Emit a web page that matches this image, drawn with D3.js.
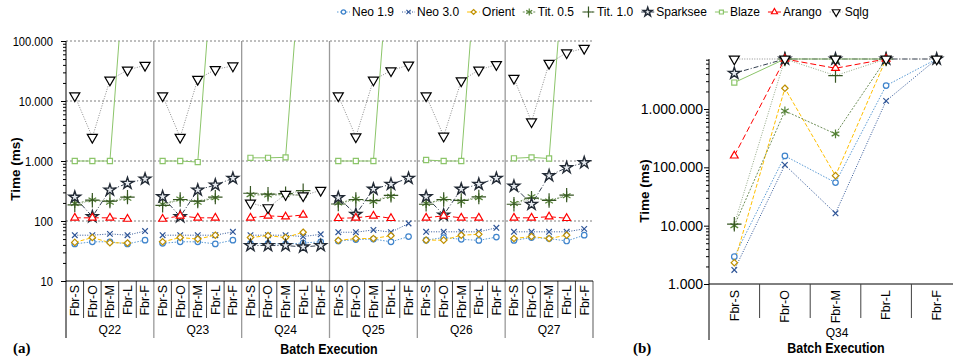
<!DOCTYPE html>
<html>
<head>
<meta charset="utf-8">
<script src="https://cdn.jsdelivr.net/npm/d3@7"></script>
<style>
  body { margin: 0; background: #fff; }
  text { font-family: "Liberation Sans", Arial, sans-serif; fill: #000; }
</style>
</head>
<body>
<div id="chart"></div>
<script>
// categories
var groups = ["Q22", "Q23", "Q24", "Q25", "Q26", "Q27"];
var cats = ["Fbr-S", "Fbr-O", "Fbr-M", "Fbr-L", "Fbr-F"];
var TO = 7200000; // timeout (2h)

// (a) one row per query, one value per batch size (ms)
var neo19 = [
  [41.5, 45, 45, 41.5, 48],
  [42.5, 45, 45, 41.5, 48],
  [42, 42, 41, 43, 45],
  [46.4, 49, 50, 45, 55],
  [48, 53, 49.5, 47.5, 54],
  [47.5, 53, 51, 46.4, 58]
];
var neo30 = [
  [58, 58, 61, 58, 68],
  [58, 58, 58, 58, 66],
  [58, 58, 58, 55, 60],
  [65, 65, 71, 65, 91],
  [66, 66, 66, 66, 77],
  [66, 66, 66, 66, 74]
];
var orient = [
  [44, 53, 43.5, 43, null],
  [45, 53, 50, 58, null],
  [53, 57, 53, 65, null],
  [47.5, 51, 51, 57, null],
  [48, 48, 58, 60, null],
  [51, 55, 51, 58, null]
];
var tit05 = [
  [195, 225, 205, 240, null],
  [190, 232, 205, 245, null],
  [275, 270, 275, 270, null],
  [200, 232, 212, 258, null],
  [196, 232, 212, 245, null],
  [196, 254, 215, 264, null]
];
var tit10 = [
  [185, 222, 215, 250, null],
  [182, 228, 215, 250, null],
  [290, 280, 285, 320, null],
  [192, 228, 218, 268, null],
  [190, 228, 220, 252, null],
  [190, 240, 220, 270, null]
];
var sparksee = [
  [250, 118, 328, 425, 500],
  [254, 118, 328, 398, 515],
  [39, 39, 39, 37, 39],
  [245, 129, 340, 410, 515],
  [254, 126, 340, 410, 515],
  [380, 190, 570, 773, 937]
];
var blaze = [
  [1000, 1000, 1000, TO, TO],
  [1000, 1000, 960, TO, TO],
  [1130, 1130, 1150, TO, TO],
  [1000, 1000, 1000, TO, TO],
  [1040, 1000, 1000, TO, TO],
  [1110, 1150, 1100, TO, TO]
];
var arango = [
  [113, 113, 113, 108, null],
  [108, 122, 113, 113, null],
  [113, 122, 118, 126, null],
  [111, 113, 122, 111, null],
  [113, 122, 113, 113, null],
  [113, 113, 118, 111, null]
];
var sqlg = [
  [12250, 2480, 22400, 32800, 39400],
  [12250, 2480, 23000, 33500, 38500],
  [200, 167, 278, 264, 325],
  [12250, 2530, 22400, 32000, 39800],
  [12250, 2600, 21700, 32800, 40500],
  [23900, 4520, 42500, 63800, 75500]
];

// (b) Q34
var q34Neo19 = [2940, 157000, 54700, 2520000, TO];
var q34Neo30 = [1740, 110000, 16300, 1380000, TO];
var q34Orient = [2320, 2270000, 72000, TO, null];
var q34Tit05 = [10000, 927000, 374000, TO, null];
var q34Tit10 = [10600, TO, 3740000, TO, null];
var q34Sparksee = [4100000, TO, TO, TO, TO];
var q34Blaze = [2840000, TO, TO, TO, null];
var q34Arango = [158000, TO, 5000000, TO, null];
var q34Sqlg = [TO, TO, TO, TO, TO];

var ticksA = [10, 100, 1000, 10000, 100000];
var ticksB = [1000, 10000, 100000, 1000000];

var series = [
  {name: "Neo 1.9", a: neo19, b: q34Neo19, color: "#3f84cc", line: "#5b9bd5", dash: "1.5,1.5", sym: d3.symbolCircle, size: 24, fill: "#fff"},
  {name: "Neo 3.0", a: neo30, b: q34Neo30, color: "#2f5597", line: "#2f5597", dash: "1,1.5", sym: d3.symbolTimes, size: 22, fill: "none"},
  {name: "Orient", a: orient, b: q34Orient, color: "#bf9000", line: "#ffc000", dash: "4,2", sym: d3.symbolDiamond2, size: 26, fill: "#fff"},
  {name: "Tit. 0.5", a: tit05, b: q34Tit05, color: "#548235", line: "#6f8f5a", dash: "2,1.5", sym: d3.symbolAsterisk, size: 55, fill: "none"},
  {name: "Tit. 1.0", a: tit10, b: q34Tit10, color: "#375623", line: "#93a886", dash: "1,1.5", sym: d3.symbolPlus, size: 70, fill: "none"},
  {name: "Sparksee", a: sparksee, b: q34Sparksee, color: "#222a35", line: "#333f50", dash: "5,2,1,2", sym: d3.symbolStar, size: 42, fill: "#e8ecf1"},
  {name: "Blaze", a: blaze, b: q34Blaze, color: "#8cc56a", line: "#8cc56a", dash: null, sym: d3.symbolSquare, size: 26, fill: "#fff"},
  {name: "Arango", a: arango, b: q34Arango, color: "#ff0000", line: "#ff0000", dash: "6,3", sym: d3.symbolTriangle, size: 26, fill: "#fff"},
  {name: "Sqlg", a: sqlg, b: q34Sqlg, color: "#000", line: "#8c8c8c", dash: "1,1.5", sym: d3.symbolTriangle, size: 44, fill: "#fff", flip: true}
];

var fmt = d3.formatLocale({decimal: ",", thousands: ".", grouping: [3], currency: ["", ""]}).format(",d");

var svg = d3.select("#chart").append("svg")
  .attr("width", 953)
  .attr("height", 360);

// squeeze text horizontally, keeping its anchor
function squish(sel, k) {
  sel.each(function() {
    var t = d3.select(this);
    var x = +t.attr("x") || 0;
    t.attr("x", x / k).attr("transform", "scale(" + k + ",1)");
  });
}

function drawMarker(g, s, x, y) {
  g.append("path")
    .attr("d", d3.symbol().type(s.sym).size(s.size)())
    .attr("transform", "translate(" + x + "," + y + ")" + (s.flip ? " rotate(180)" : ""))
    .attr("fill", s.fill)
    .attr("stroke", s.color)
    .attr("stroke-width", s.sym === d3.symbolStar ? 1.4 : 1.2);
}

// ---------------- (a) ----------------
var A = {x0: 66, x1: 593, y0: 41, y1: 281};
var yA = d3.scaleLog().domain([10, 100000]).range([A.y1, A.y0]);
var xG = d3.scaleBand().domain(groups).range([A.x0, A.x1]);
var xC = d3.scaleBand().domain(cats).range([0, xG.bandwidth()]);

svg.append("clipPath").attr("id", "clipA")
  .append("rect").attr("x", A.x0).attr("y", A.y0).attr("width", A.x1 - A.x0).attr("height", A.y1 - A.y0);

// grid
svg.append("g").selectAll("line")
  .data(ticksA.slice(1))
  .enter().append("line")
  .attr("x1", A.x0).attr("x2", A.x1)
  .attr("y1", d => yA(d)).attr("y2", d => yA(d))
  .attr("stroke", "#7f7f7f")
  .attr("stroke-dasharray", "2,2");

// group separators
svg.append("g").selectAll("line")
  .data(groups.slice(1))
  .enter().append("line")
  .attr("x1", d => xG(d)).attr("x2", d => xG(d))
  .attr("y1", A.y0).attr("y2", 338)
  .attr("stroke", "#9a9a9a")
  .attr("stroke-width", 1.3);
svg.append("line")
  .attr("x1", A.x1).attr("x2", A.x1).attr("y1", A.y1).attr("y2", 338)
  .attr("stroke", "#7f7f7f").attr("stroke-width", 1.3);

// category dividers and labels
groups.forEach(function(g) {
  cats.forEach(function(c, i) {
    var cx = xG(g) + xC(c) + xC.bandwidth() / 2;
    if (i > 0) {
      svg.append("line")
        .attr("x1", xG(g) + xC(c)).attr("x2", xG(g) + xC(c))
        .attr("y1", A.y1).attr("y2", 318)
        .attr("stroke", "#404040");
    }
    svg.append("text")
      .attr("transform", "translate(" + cx + ",285) rotate(-90)")
      .attr("text-anchor", "end")
      .attr("dy", "0.35em")
      .style("font-size", "12.5px")
      .text(c);
  });
  svg.append("text")
    .attr("x", xG(g) + xG.bandwidth() / 2)
    .attr("y", 334)
    .attr("text-anchor", "middle")
    .style("font-size", "12px")
    .text(g);
});

// y axis
var minorA = yA.ticks().filter(d => ticksA.indexOf(d) < 0);
svg.append("g")
  .attr("transform", "translate(" + A.x0 + ",0)")
  .call(d3.axisLeft(yA).tickValues(minorA).tickSizeInner(3).tickSizeOuter(0).tickFormat(""))
  .call(g => g.select(".domain").remove());
var gyA = svg.append("g")
  .attr("transform", "translate(" + A.x0 + ",0)")
  .call(d3.axisLeft(yA).tickValues(ticksA).tickFormat(fmt).tickSizeInner(5).tickSizeOuter(0).tickPadding(8));
gyA.select(".domain").remove();
gyA.selectAll("text").style("font-size", "13px").style("font-family", "'Liberation Sans', Arial, sans-serif");
squish(gyA.selectAll("text"), 0.86);
svg.append("line").attr("x1", A.x0).attr("x2", A.x0).attr("y1", A.y0).attr("y2", 338).attr("stroke", "#000");
svg.append("line").attr("x1", A.x0).attr("x2", A.x1).attr("y1", A.y1).attr("y2", A.y1).attr("stroke", "#000");

// series
var plotA = svg.append("g").attr("clip-path", "url(#clipA)");
var lineA = d3.line().defined(d => d.v != null).x(d => d.x).y(d => yA(d.v));
series.forEach(function(s) {
  groups.forEach(function(g, gi) {
    var pts = cats.map((c, i) => ({x: xG(g) + xC(c) + xC.bandwidth() / 2, v: s.a[gi][i]}));
    plotA.append("path")
      .attr("d", lineA(pts))
      .attr("fill", "none")
      .attr("stroke", s.line)
      .attr("stroke-width", 1)
      .attr("stroke-dasharray", s.dash);
  });
});
series.forEach(function(s) {
  groups.forEach(function(g, gi) {
    cats.forEach(function(c, i) {
      var v = s.a[gi][i];
      if (v == null) return;
      drawMarker(plotA, s, xG(g) + xC(c) + xC.bandwidth() / 2, yA(v));
    });
  });
});

svg.append("text")
  .attr("transform", "translate(20,169) rotate(-90)")
  .attr("text-anchor", "middle")
  .style("font-size", "13.5px").style("font-weight", "bold")
  .text("Time (ms)");
var bxA = svg.append("text")
  .attr("x", 329).attr("y", 354)
  .attr("text-anchor", "middle")
  .style("font-size", "15px").style("font-weight", "bold")
  .text("Batch Execution");
squish(bxA, 0.83);
svg.append("text")
  .attr("x", 13).attr("y", 353)
  .style("font-family", "'Liberation Serif', 'Times New Roman', serif")
  .style("font-size", "15px").style("font-weight", "bold")
  .text("(a)");

// ---------------- (b) ----------------
var B = {x0: 709, x1: 962, y0: 59, y1: 284};
var yB = d3.scaleLog().domain([1000, TO]).range([B.y1, B.y0]);
var xB = d3.scaleBand().domain(cats).range([B.x0, B.x1]);

var minorB = yB.ticks().filter(d => ticksB.indexOf(d) < 0);
svg.append("g")
  .attr("transform", "translate(" + B.x0 + ",0)")
  .call(d3.axisLeft(yB).tickValues(minorB).tickSizeInner(3).tickSizeOuter(0).tickFormat(""))
  .call(g => g.select(".domain").remove());
var gyB = svg.append("g")
  .attr("transform", "translate(" + B.x0 + ",0)")
  .call(d3.axisLeft(yB).tickValues(ticksB).tickFormat(fmt).tickSizeInner(5).tickSizeOuter(0).tickPadding(1));
gyB.select(".domain").remove();
gyB.selectAll("text").style("font-size", "14px").style("font-family", "'Liberation Sans', Arial, sans-serif");
svg.append("line").attr("x1", B.x0).attr("x2", B.x0).attr("y1", B.y0).attr("y2", 340).attr("stroke", "#000");
svg.append("line").attr("x1", B.x0).attr("x2", B.x1).attr("y1", B.y1).attr("y2", B.y1).attr("stroke", "#000");

cats.forEach(function(c, i) {
  if (i > 0) {
    svg.append("line")
      .attr("x1", xB(c)).attr("x2", xB(c))
      .attr("y1", B.y1).attr("y2", 318)
      .attr("stroke", "#404040");
  }
  svg.append("text")
    .attr("transform", "translate(" + (xB(c) + xB.bandwidth() / 2) + ",290) rotate(-90)")
    .attr("text-anchor", "end")
    .attr("dy", "0.35em")
    .style("font-size", "12.5px")
    .text(c);
});

var lineB = d3.line().defined(d => d.v != null).x(d => d.x).y(d => yB(d.v));
series.forEach(function(s) {
  var pts = cats.map((c, i) => ({x: xB(c) + xB.bandwidth() / 2, v: s.b[i]}));
  svg.append("path")
    .attr("d", lineB(pts))
    .attr("fill", "none")
    .attr("stroke", s.line)
    .attr("stroke-width", 1)
    .attr("stroke-dasharray", s.dash);
});
series.forEach(function(s) {
  cats.forEach(function(c, i) {
    if (s.b[i] == null) return;
    drawMarker(svg, s, xB(c) + xB.bandwidth() / 2, yB(s.b[i]));
  });
});

svg.append("text")
  .attr("x", 837).attr("y", 337)
  .attr("text-anchor", "middle")
  .style("font-size", "12px")
  .text("Q34");
svg.append("text")
  .attr("transform", "translate(649,191) rotate(-90)")
  .attr("text-anchor", "middle")
  .style("font-size", "13.5px").style("font-weight", "bold")
  .text("Time (ms)");
var bxB = svg.append("text")
  .attr("x", 836).attr("y", 353)
  .attr("text-anchor", "middle")
  .style("font-size", "15px").style("font-weight", "bold")
  .text("Batch Execution");
squish(bxB, 0.83);
svg.append("text")
  .attr("x", 633).attr("y", 353)
  .style("font-family", "'Liberation Serif', 'Times New Roman', serif")
  .style("font-size", "15px").style("font-weight", "bold")
  .text("(b)");

// ---------------- legend ----------------
var lx = 337;
var legend = svg.append("g");
series.forEach(function(s) {
  legend.append("line")
    .attr("x1", lx).attr("x2", lx + 13)
    .attr("y1", 12).attr("y2", 12)
    .attr("stroke", s.line)
    .attr("stroke-dasharray", s.dash);
  var ms = Object.assign({}, s, {size: s.size * 0.6});
  drawMarker(legend, ms, lx + 6.5, 12);
  var t = legend.append("text")
    .attr("x", lx + 15).attr("y", 16)
    .style("font-size", "12px")
    .text(s.name);
  lx += 15 + t.node().getComputedTextLength() + 8;
});
</script>
</body>
</html>
